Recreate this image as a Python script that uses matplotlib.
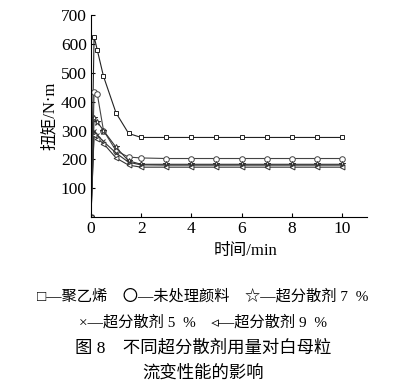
import matplotlib

matplotlib.use("Agg")
import matplotlib.pyplot as plt

plt.rcParams["font.family"] = ["Liberation Serif", "Noto Sans CJK SC", "DejaVu Sans"]

times = [0, 0.125, 0.25, 0.5, 1, 1.5, 2, 3, 4, 5, 6, 7, 8, 9, 10]
polyethylene = [0, 626, 580, 488, 361, 290, 276, 276, 276, 276, 276, 276, 276, 276, 276]
untreated = [0, 432, 428, 300, 230, 208, 205, 203, 203, 203, 203, 203, 203, 203, 203]
disp_7 = [0, 342, 330, 300, 242, 195, 183, 183, 183, 183, 183, 183, 183, 183, 183]
disp_5 = [0, 298, 285, 262, 222, 190, 181, 180, 180, 180, 180, 180, 180, 180, 180]
disp_9 = [0, 285, 272, 255, 205, 180, 173, 173, 173, 173, 173, 173, 173, 173, 173]

series = [
    (polyethylene, "s", "#222222", 3.5),
    (untreated, "o", "#444444", 4),
    (disp_7, "*", "#333333", 4.5),
    (disp_5, "x", "#333333", 3.5),
    (disp_9, "<", "#333333", 3.5),
]

fig = plt.figure(figsize=(4.06, 3.89), dpi=100)
ax = fig.add_axes([0.224, 0.442, 0.68, 0.519])
for values, marker, color, size in series:
    ax.plot(times, values, color=color, linewidth=0.8, marker=marker,
            markersize=size, markerfacecolor="white", markeredgewidth=0.7)

ax.set_xlim(0, 11)
ax.set_ylim(0, 700)
ax.set_xticks([0, 2, 4, 6, 8, 10])
ax.set_yticks([100, 200, 300, 400, 500, 600, 700])
ax.tick_params(direction="in", labelsize=12.5, length=3, width=0.8, pad=3)
for side in ("top", "right"):
    ax.spines[side].set_visible(False)
ax.set_xlabel("时间/min", fontsize=12, labelpad=2)
ax.set_ylabel("扭矩/N·m", fontsize=12, labelpad=2)
ax.xaxis.set_label_coords(0.56, -0.13)

legend_font = ["Liberation Serif", "Noto Sans CJK SC", "DejaVu Sans"]
fig.text(0.5, 1 - 296 / 389, "□—聚乙烯    〇—未处理颜料    ☆—超分散剂 7  %",
         ha="center", va="center", fontsize=11, family=legend_font)
fig.text(0.5, 1 - 322 / 389, "×—超分散剂 5  %    ◃—超分散剂 9  %",
         ha="center", va="center", fontsize=11, family=legend_font)
fig.text(0.5, 1 - 348 / 389, "图 8    不同超分散剂用量对白母粒",
         ha="center", va="center", fontsize=12.5, family=legend_font)
fig.text(0.5, 1 - 374 / 389, "流变性能的影响",
         ha="center", va="center", fontsize=12.5, family=legend_font)

fig.savefig("out.png", dpi=100)
